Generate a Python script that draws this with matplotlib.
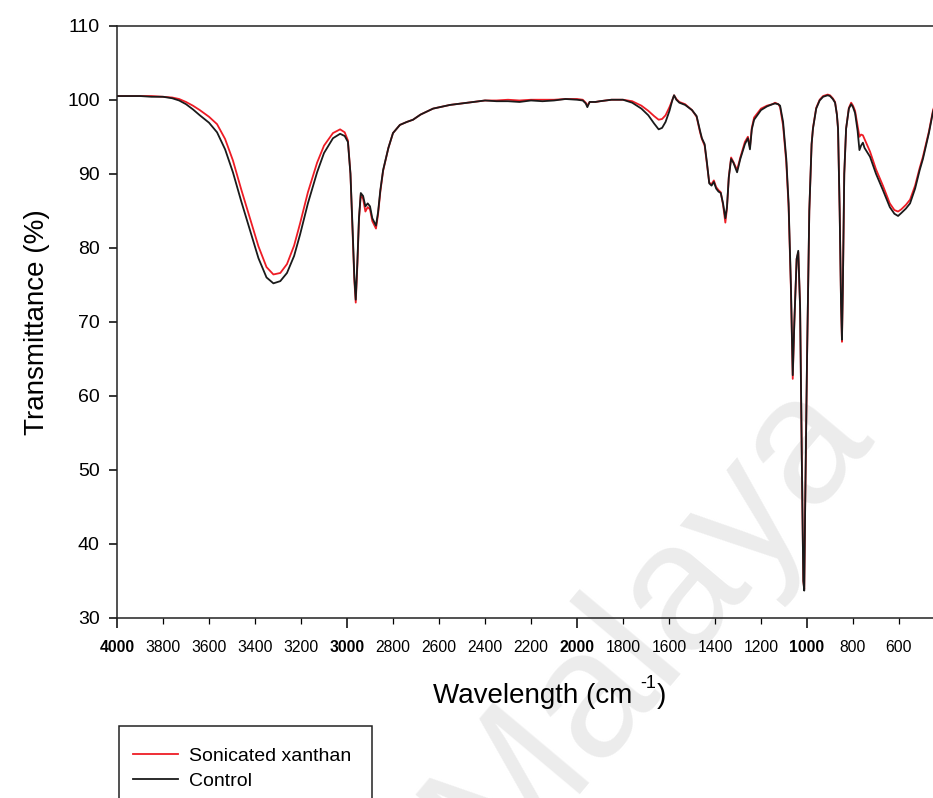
import matplotlib
matplotlib.use("Agg")
import matplotlib.pyplot as plt
from matplotlib.patches import Rectangle
from matplotlib.ticker import MultipleLocator, FormatStrFormatter

plt.rcParams['font.family'] = ['Liberation Sans', 'DejaVu Sans']

# ==============================
# FTIR data
# ==============================
wavenumber = [4000, 3950, 3900, 3850, 3800, 3760, 3730, 3700, 3670, 3640,
              3600, 3565, 3530, 3496, 3460, 3422, 3385, 3350, 3320, 3290,
              3261, 3230, 3204, 3170, 3130, 3100, 3061, 3030, 3010, 2996,
              2985, 2975, 2968, 2962, 2955, 2948, 2940, 2930, 2920, 2910,
              2900, 2890, 2874, 2865, 2855, 2843, 2820, 2800, 2770, 2740,
              2713, 2680, 2626, 2552, 2500, 2450, 2400, 2350, 2300, 2250,
              2200, 2150, 2100, 2050, 2000, 1975, 1962, 1955, 1945, 1920,
              1900, 1850, 1800, 1760, 1720, 1690, 1665, 1645, 1630, 1615,
              1598, 1585, 1578, 1568, 1555, 1530, 1500, 1480, 1465, 1457,
              1445, 1435, 1425, 1415, 1405, 1395, 1385, 1375, 1365, 1355,
              1348, 1340, 1330, 1320, 1304, 1290, 1270, 1257, 1248, 1240,
              1230, 1200, 1174, 1150, 1139, 1125, 1117, 1104, 1090, 1080,
              1070, 1062, 1055, 1045, 1038, 1030, 1022, 1016, 1012, 1008,
              1000, 990, 980, 974, 960, 945, 930, 910, 900, 888,
              878, 870, 865, 858, 852, 848, 844, 838, 830, 818,
              808, 800, 791, 780, 772, 765, 757, 750, 740, 726,
              700, 670, 640, 620, 604, 590, 570, 552, 530, 510,
              496, 470, 452, 430]

control = [100.5, 100.5, 100.5, 100.4, 100.4, 100.2, 99.9, 99.4, 98.7, 97.9,
           96.9, 95.6, 93.3, 90.2, 86.3, 82.4, 78.6, 76.0, 75.2, 75.5,
           76.6, 78.9, 81.8, 86.0, 90.2, 92.8, 94.8, 95.4, 95.1, 94.3,
           90.0, 82.0, 76.0, 73.0, 78.0, 84.0, 87.4, 87.0, 85.6, 86.0,
           85.6, 84.0, 83.0, 84.8, 87.8, 90.5, 93.5, 95.5, 96.6, 97.0,
           97.3, 98.0, 98.8, 99.3, 99.5, 99.7, 99.9, 99.8, 99.8, 99.7,
           99.9, 99.8, 99.9, 100.1, 100.0, 99.9, 99.5, 99.0, 99.7, 99.7,
           99.8, 100.0, 100.0, 99.6, 98.8, 97.9, 96.8, 96.0, 96.2, 97.0,
           98.5, 100.0, 100.6, 100.0, 99.6, 99.3, 98.6, 97.8, 95.8, 94.8,
           94.0, 91.5, 88.7, 88.4, 88.9, 88.0, 87.6, 87.4, 86.0, 84.0,
           85.5, 89.5, 92.0, 91.5, 90.2, 92.0, 94.0, 94.8, 93.3, 96.0,
           97.3, 98.6, 99.1, 99.4, 99.5, 99.4, 99.2, 97.0, 92.0, 86.0,
           75.0, 62.8, 70.0, 78.5, 79.6, 72.0, 50.0, 35.0, 33.7, 45.0,
           64.7, 85.0, 94.0, 96.1, 98.8, 99.9, 100.4, 100.6, 100.5, 100.1,
           99.6, 98.0, 96.1, 85.0, 72.5, 67.6, 75.0, 90.0, 96.1, 98.8,
           99.4, 99.0, 98.2, 95.8, 93.2, 93.8, 94.2, 93.5, 93.0, 92.3,
           90.0, 87.8, 85.5, 84.6, 84.3, 84.7, 85.3, 86.0, 88.0, 90.5,
           92.0, 95.5, 98.4, 100.5]

sonicated = [100.5, 100.5, 100.5, 100.5, 100.4, 100.3, 100.1, 99.7, 99.2, 98.6,
             97.7, 96.7, 94.7, 91.8, 87.9, 84.0, 80.2, 77.4, 76.4, 76.6,
             77.8, 80.3, 83.3, 87.5, 91.5, 93.8, 95.5, 96.0, 95.6, 94.5,
             90.0, 81.5, 75.5, 72.6, 77.6, 83.8, 87.2, 86.6, 84.9, 85.5,
             85.2, 83.6, 82.6, 84.5, 87.6, 90.4, 93.5, 95.5, 96.6, 97.0,
             97.3, 98.0, 98.8, 99.3, 99.5, 99.7, 99.9, 99.9, 100.0, 99.9,
             100.0, 100.0, 100.0, 100.1, 100.1, 100.0, 99.6, 99.2, 99.7, 99.7,
             99.8, 100.0, 100.0, 99.8, 99.2, 98.5, 97.8, 97.3, 97.4, 97.9,
             99.0, 100.0, 100.6, 100.1, 99.7, 99.4, 98.6, 97.7, 95.6, 94.7,
             93.8, 91.3, 88.8, 88.6, 89.1, 88.2, 87.8, 87.5, 85.8, 83.4,
             85.3, 89.6, 92.2, 91.6, 90.5, 92.2, 94.3, 95.0, 93.6, 96.2,
             97.6, 98.8, 99.2, 99.4, 99.6, 99.4, 99.0, 96.5, 91.5, 85.5,
             74.5, 62.3, 70.0, 78.5, 79.4, 72.0, 50.0, 35.0, 33.9, 45.0,
             64.5, 85.0, 94.0, 96.2, 98.9, 100.0, 100.5, 100.7, 100.6, 100.2,
             99.7, 98.0, 96.0, 85.0, 72.5, 67.3, 75.0, 90.0, 96.1, 98.9,
             99.6, 99.2, 98.5, 96.5, 95.0, 95.3, 95.2, 94.7, 94.0, 93.0,
             90.6, 88.4, 86.0, 85.1, 84.9, 85.2, 85.8, 86.5, 88.4, 90.8,
             92.3, 95.7, 98.6, 100.6]

series_labels = ["Sonicated xanthan", "Control"]

# ==============================
# FIGURE
# ==============================
W, H = 933, 798
fig = plt.figure(figsize=(W / 100, H / 100), dpi=100)
ax = fig.add_axes([117 / W, 1 - 618 / H, (4000 - 410) * 0.23 / W, (618 - 25.7) / H])
ax.set_facecolor('none')

ax.plot(wavenumber, sonicated, color='#ee1c25', lw=1.3, label=series_labels[0])
ax.plot(wavenumber, control, color='#1a1a1a', lw=1.3, label=series_labels[1])

ax.set_xlim(4000, 410)
ax.set_ylim(30, 110)

for s in ['left', 'bottom', 'top', 'right']:
    ax.spines[s].set_linewidth(1.1)
    ax.spines[s].set_color('#222222')

# x ticks: bold at thousands, normal at every 200
ax.xaxis.set_major_locator(MultipleLocator(1000))
ax.xaxis.set_minor_locator(MultipleLocator(200))
ax.xaxis.set_major_formatter(FormatStrFormatter('%d'))
ax.xaxis.set_minor_formatter(FormatStrFormatter('%d'))
ax.tick_params(axis='x', which='major', direction='out', length=7, width=1.1,
               labelsize=11.3, pad=9, top=False)
ax.tick_params(axis='x', which='minor', direction='out', length=4, width=0.9,
               labelsize=11.3, pad=12, top=False)
for lbl in ax.get_xticklabels(which='major'):
    lbl.set_fontweight('bold')

ax.yaxis.set_major_locator(MultipleLocator(10))
ax.tick_params(axis='y', direction='out', length=5.5, width=1.1,
               labelsize=14, pad=7, right=False)

ax.set_ylabel('Transmittance (%)', fontsize=20, labelpad=12)

# x label with a small raised "-1", built from three pieces
fig.canvas.draw()
rend = fig.canvas.get_renderer()
x0, base = 433, 703
t1 = fig.text(x0 / W, 1 - base / H, 'Wavelength (cm ', fontsize=20, va='baseline')
w1 = t1.get_window_extent(rend).width
t2 = fig.text((x0 + w1) / W, 1 - (base - 15) / H, '-1', fontsize=13, va='baseline')
w2 = t2.get_window_extent(rend).width
fig.text((x0 + w1 + w2 + 1) / W, 1 - base / H, ')', fontsize=20, va='baseline')

# legend: entries without frame, box drawn separately (runs off the bottom)
fig.legend(loc='upper left', bbox_to_anchor=(133 / W, 1 - 747 / H),
           fontsize=14, frameon=False, handlelength=2.3, handletextpad=0.6,
           borderpad=0, labelspacing=0.4, borderaxespad=0)
fig.patches.append(Rectangle((119 / W, -0.05), (372 - 119) / W, 0.05 + (1 - 726 / H),
                             transform=fig.transFigure, fill=False,
                             edgecolor='#222222', lw=1.1))

# watermark
fig.text(0.695, 0.22, 'Malaya', rotation=50, fontsize=130, color='#ececec',
         ha='center', va='center', zorder=-1)

fig.savefig('out.png', dpi=100)
